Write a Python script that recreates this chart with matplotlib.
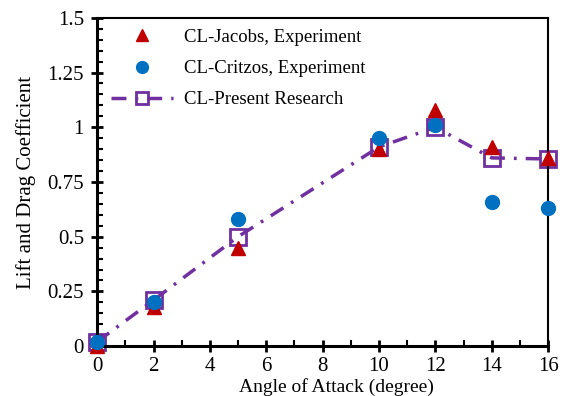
import matplotlib
matplotlib.use("Agg")
import matplotlib.pyplot as plt
from matplotlib.ticker import MultipleLocator

plt.rcParams["font.family"] = ["Liberation Serif", "DejaVu Serif"]

# Lift coefficient vs angle of attack
angle = [0, 2, 5, 10, 12, 14, 16]
cl_jacobs = [0.0, 0.18, 0.45, 0.90, 1.08, 0.91, 0.86]
cl_critzos = [0.02, 0.20, 0.58, 0.95, 1.01, 0.66, 0.63]
cl_present = [0.02, 0.21, 0.50, 0.91, 1.00, 0.86, 0.855]

fig = plt.figure(figsize=(5.68, 3.96), dpi=100)
ax = fig.add_axes([0.171, 0.126, 0.794, 0.829])

ax.plot(angle, cl_present, color="#7030A0", lw=2.5, linestyle=(0, (4.3, 2.6, 0.8, 2.6)),
        marker="s", markersize=11, markerfacecolor="none", markeredgecolor="#7030A0",
        markeredgewidth=2, label="CL-Present Research", zorder=2, clip_on=False)
ax.plot(angle, cl_jacobs, linestyle="none", marker="^", markersize=10, color="#C00000",
        label="CL-Jacobs, Experiment", zorder=3, clip_on=False)
ax.plot(angle, cl_critzos, linestyle="none", marker="o", markersize=10, color="#0070C0",
        label="CL-Critzos, Experiment", zorder=4, clip_on=False)

ax.set_xlim(0, 16)
ax.set_ylim(0, 1.5)
ax.xaxis.set_major_locator(MultipleLocator(2))
ax.xaxis.set_minor_locator(MultipleLocator(1))
ax.yaxis.set_minor_locator(MultipleLocator(0.05))
ax.set_yticks([0, 0.25, 0.5, 0.75, 1, 1.25, 1.5])
ax.set_yticklabels(["0", "0.25", "0.5", "0.75", "1", "1.25", "1.5"])

ax.tick_params(which="major", direction="inout", length=9, width=2, labelsize=15)
ax.tick_params(which="minor", direction="in", length=4, width=1.5)
ax.tick_params(axis="y", which="major", pad=5)
ax.tick_params(axis="x", which="major", pad=3)
ax.tick_params(top=False, right=False, which="both")
for side in ["left", "bottom"]:
    ax.spines[side].set_linewidth(2.2)
for side in ["top", "right"]:
    ax.spines[side].set_linewidth(1.5)

ax.set_xlabel("Angle of Attack (degree)", fontsize=14)
ax.xaxis.set_label_coords(0.53, -0.096, transform=ax.transAxes)
ax.xaxis.label.set_va("top")
ax.set_ylabel("Lift and Drag Coefficient", fontsize=15)
ax.yaxis.set_label_coords(-0.135, 0.5)

handles, labels = ax.get_legend_handles_labels()
order = [1, 2, 0]
ax.legend([handles[i] for i in order], [labels[i] for i in order], loc="upper left",
          frameon=False, fontsize=13.5, handlelength=3.3, handletextpad=0.6,
          markerscale=0.85, borderaxespad=0.1, bbox_to_anchor=(0.01, 0.995),
          labelspacing=0.75)

fig.savefig("out.png", dpi=100)
